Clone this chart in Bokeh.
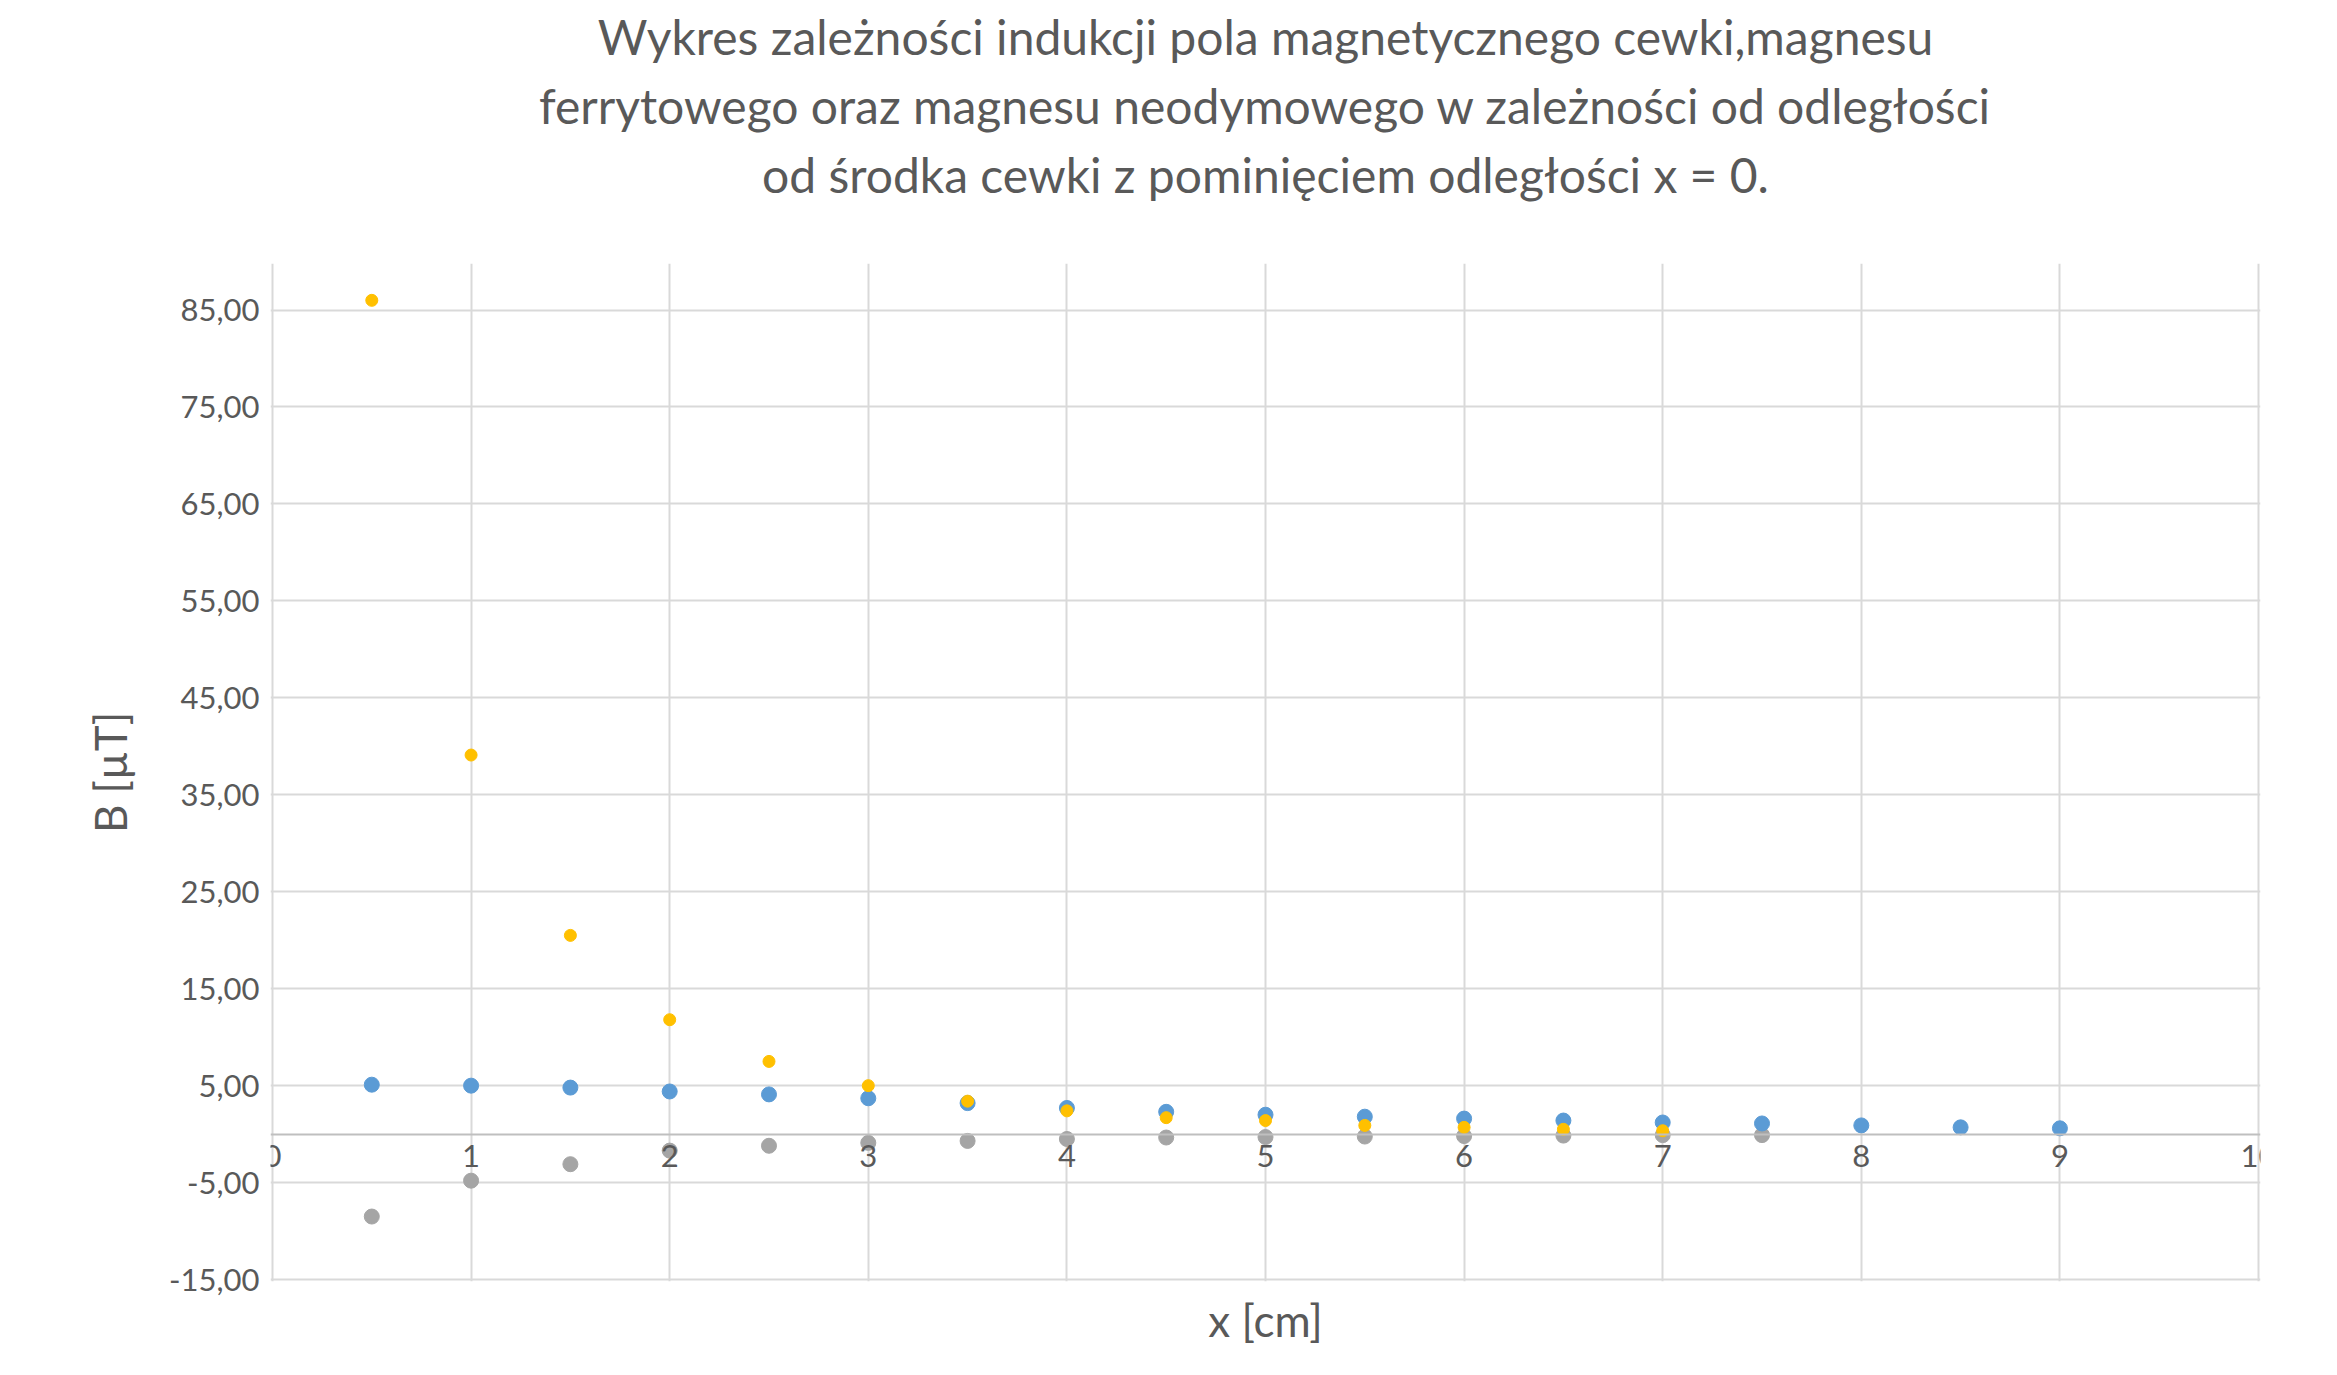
from bokeh.plotting import figure
from bokeh.models import FixedTicker, CustomJSTickFormatter, Range1d, Title
from bokeh.embed import file_html
from bokeh.resources import INLINE

# data
x_blue = [0.5, 1, 1.5, 2, 2.5, 3, 3.5, 4, 4.5, 5, 5.5, 6, 6.5, 7, 7.5, 8, 8.5, 9]
b_cewka = [5.1, 5.0, 4.8, 4.4, 4.1, 3.7, 3.2, 2.7, 2.3, 2.0, 1.8, 1.6, 1.4, 1.2, 1.1, 0.9, 0.7, 0.6]
x_gray = [0.5, 1, 1.5, 2, 2.5, 3, 3.5, 4, 4.5, 5, 5.5, 6, 6.5, 7, 7.5]
b_ferryt = [-8.5, -4.8, -3.1, -1.7, -1.2, -0.9, -0.7, -0.5, -0.35, -0.3, -0.25, -0.2, -0.15, -0.1, -0.1]
x_orange = [0.5, 1, 1.5, 2, 2.5, 3, 3.5, 4, 4.5, 5, 5.5, 6, 6.5, 7]
b_neodym = [86.0, 39.1, 20.5, 11.8, 7.5, 5.0, 3.4, 2.4, 1.7, 1.4, 0.9, 0.7, 0.5, 0.35]

y_ticks = [-15, -5, 5, 15, 25, 35, 45, 55, 65, 75, 85]
x_ticks = list(range(0, 11))
title_lines = [
    "Wykres zależności indukcji pola magnetycznego cewki,magnesu",
    "ferrytowego oraz magnesu neodymowego w zależności od odległości",
    "od środka cewki z pominięciem odległości x = 0.",
]

FONT = "Lato"
TXT = "#595959"

p = figure(width=2320, height=1355, output_backend="svg", toolbar_location=None,
           x_range=Range1d(-0.01, 10.01), y_range=Range1d(-15.2, 89.8),
           min_border_left=270, min_border_right=60, min_border_bottom=40, min_border_top=45)

# spacer between title and plot area
p.add_layout(Title(text=" ", text_font_size="40px"), "above")
for line in reversed(title_lines):
    p.add_layout(Title(text=line, align="center", text_font=FONT, text_font_size="48px",
                       text_font_style="normal", text_color=TXT), "above")
p.add_layout(Title(text="x [cm]", align="center", text_font=FONT, text_font_size="44px",
                   text_font_style="normal", text_color=TXT, standoff=20), "below")

p.scatter(x_gray, b_ferryt, size=15, color="#A5A5A5")
p.scatter(x_blue, b_cewka, size=15, color="#5B9BD5")
p.scatter(x_orange, b_neodym, size=12, color="#FFC000")

p.yaxis.ticker = FixedTicker(ticks=y_ticks)
p.yaxis.formatter = CustomJSTickFormatter(code="return tick.toFixed(2).replace('.', ',');")
p.yaxis.axis_label = "B [µT]"
p.yaxis.axis_label_text_font = FONT
p.yaxis.axis_label_text_font_size = "44px"
p.yaxis.axis_label_text_font_style = "normal"
p.yaxis.axis_label_text_color = TXT
p.yaxis.axis_label_standoff = 30
p.yaxis.axis_line_color = None

p.xaxis.ticker = FixedTicker(ticks=x_ticks)
p.xaxis.fixed_location = 0
p.xaxis.axis_line_color = "#BFBFBF"
p.xaxis.axis_line_width = 2

for ax in (p.xaxis, p.yaxis):
    ax.major_label_text_font = FONT
    ax.major_label_text_font_size = "31px"
    ax.major_label_text_color = TXT
    ax.major_tick_line_color = None
    ax.minor_tick_line_color = None

p.xgrid.ticker = FixedTicker(ticks=x_ticks)
p.ygrid.ticker = FixedTicker(ticks=y_ticks)
p.grid.grid_line_color = "#D9D9D9"
p.grid.grid_line_width = 2
p.outline_line_color = None
p.border_fill_color = "white"

open("out.html", "w").write(file_html(p, INLINE))
